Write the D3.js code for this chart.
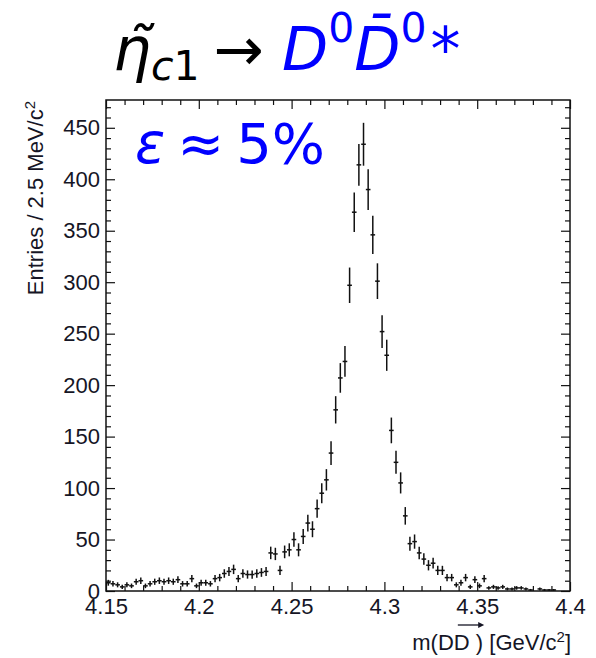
<!DOCTYPE html>
<html>
<head>
<meta charset="utf-8">
<script src="https://cdn.jsdelivr.net/npm/d3@7"></script>
<style>
    html, body { margin: 0; padding: 0; background: #fff; }
    svg { display: block; }
</style>
</head>
<body>
<div id="graph"></div>
<script>
!(function(){
    "use strict"

    var width = 596;
    var height = 658;

    // entries per 2.5 MeV bin, m from 4.15 to 4.40 GeV (100 bins)
    var entries = [
         8,  7,  6,  4,  6,  5,  9, 10,  5,  7,
         9, 10,  9, 10,  9, 11,  7,  7, 12,  5,
         8,  8,  7, 12, 13, 17, 19, 21, 12, 17,
        16, 16, 17, 18, 19, 37, 36, 20, 38, 40,
        50, 40, 53, 66, 60, 80, 95,108,134,176,
       207,223,297,368,414,434,390,346,301,252,
       229,156,125,105, 73, 46, 48, 37, 31, 25,
        27, 20, 20, 13, 13,  6,  8, 13,  4, 11,
         5, 12,  3,  4,  3,  4,  2,  2,  3,  3,
         2,  1,  0,  2,  1,  1,  1,  0,  0,  0
    ];
    var massRange = [4.15, 4.4];
    var binWidth = 0.0025;

    var xTicks = [4.15, 4.2, 4.25, 4.3, 4.35, 4.4];
    var xTickLabels = ["4.15", "4.2", "4.25", "4.3", "4.35", "4.4"];
    var yTicks = [0, 50, 100, 150, 200, 250, 300, 350, 400, 450];
    var yTickLabels = ["0", "50", "100", "150", "200", "250", "300", "350", "400", "450"];
    var yMax = 477;

    var rootFont = "'Liberation Sans', Arial, Helvetica, sans-serif";
    var mathFont = "'DejaVu Sans', sans-serif";

    var svg = d3.select("#graph").append("svg")
        .attr("width", width)
        .attr("height", height);

    var x = d3.scaleLinear().domain(massRange).range([106, 570]);
    var y = d3.scaleLinear().domain([0, yMax]).range([591, 100]);

    var xMinor = d3.range(4.15, 4.4001, 0.01).filter(function(v){
        return xTicks.every(function(t){ return Math.abs(t - v) > 1e-6; });
    });
    var yMinor = d3.range(0, yMax, 10).filter(function(v){ return v % 50 !== 0; });

    function styleAxis(g) {
        g.select(".domain").remove();
        g.selectAll(".tick line").attr("stroke", "#111").attr("stroke-width", 1.2);
        g.attr("font-family", rootFont).attr("font-size", 22);
        g.selectAll(".tick text").attr("fill", "#151525");
    }

    // bottom
    svg.append("g").attr("transform", "translate(0," + y(0) + ")")
        .call(d3.axisBottom(x).tickValues(xTicks).tickSize(-9).tickPadding(7)
            .tickFormat(function(d, i){ return xTickLabels[i]; }))
        .call(styleAxis);
    svg.append("g").attr("transform", "translate(0," + y(0) + ")")
        .call(d3.axisBottom(x).tickValues(xMinor).tickSize(-5).tickFormat(""))
        .call(styleAxis);
    // top
    svg.append("g").attr("transform", "translate(0," + y(yMax) + ")")
        .call(d3.axisTop(x).tickValues(xTicks).tickSize(-9).tickFormat(""))
        .call(styleAxis);
    svg.append("g").attr("transform", "translate(0," + y(yMax) + ")")
        .call(d3.axisTop(x).tickValues(xMinor).tickSize(-5).tickFormat(""))
        .call(styleAxis);
    // left
    svg.append("g").attr("transform", "translate(" + x(4.15) + ",0)")
        .call(d3.axisLeft(y).tickValues(yTicks).tickSize(-9).tickPadding(6)
            .tickFormat(function(d, i){ return yTickLabels[i]; }))
        .call(styleAxis);
    svg.append("g").attr("transform", "translate(" + x(4.15) + ",0)")
        .call(d3.axisLeft(y).tickValues(yMinor).tickSize(-5).tickFormat(""))
        .call(styleAxis);
    // right
    svg.append("g").attr("transform", "translate(" + x(4.4) + ",0)")
        .call(d3.axisRight(y).tickValues(yTicks).tickSize(-9).tickFormat(""))
        .call(styleAxis);
    svg.append("g").attr("transform", "translate(" + x(4.4) + ",0)")
        .call(d3.axisRight(y).tickValues(yMinor).tickSize(-5).tickFormat(""))
        .call(styleAxis);

    // frame
    svg.append("rect")
        .attr("x", x(4.15)).attr("y", y(yMax))
        .attr("width", x(4.4) - x(4.15)).attr("height", y(0) - y(yMax))
        .attr("fill", "none").attr("stroke", "#111").attr("stroke-width", 1.5);

    // data points with sqrt(N) errors, empty bins not drawn
    var bins = entries.map(function(n, i){
        return { lo: massRange[0] + i * binWidth, hi: massRange[0] + (i + 1) * binWidth, n: n };
    }).filter(function(d){ return d.n > 0; });

    var pts = svg.append("g").attr("stroke", "#111").attr("stroke-width", 1.5);
    pts.selectAll("line.h").data(bins).enter().append("line")
        .attr("class", "h")
        .attr("x1", function(d){ return x(d.lo); })
        .attr("x2", function(d){ return x(d.hi); })
        .attr("y1", function(d){ return y(d.n); })
        .attr("y2", function(d){ return y(d.n); });
    pts.selectAll("line.v").data(bins).enter().append("line")
        .attr("class", "v")
        .attr("x1", function(d){ return x((d.lo + d.hi) / 2); })
        .attr("x2", function(d){ return x((d.lo + d.hi) / 2); })
        .attr("y1", function(d){ return y(Math.max(0, d.n - Math.sqrt(d.n))); })
        .attr("y2", function(d){ return y(d.n + Math.sqrt(d.n)); });

    // axis titles
    var yTitle = svg.append("text")
        .attr("transform", "translate(43,101) rotate(-90)")
        .attr("text-anchor", "end")
        .attr("font-family", rootFont).attr("font-size", 22)
        .attr("fill", "#151525")
        .text("Entries / 2.5 MeV/c");
    yTitle.append("tspan").attr("font-size", 15).attr("dy", -8).text("2");

    var xTitle = svg.append("text")
        .attr("x", 571).attr("y", 650)
        .attr("text-anchor", "end")
        .attr("font-family", rootFont).attr("font-size", 22)
        .attr("fill", "#151525")
        .text("m(DD ) [GeV/c");
    xTitle.append("tspan").attr("font-size", 15).attr("dy", -8).text("2");
    xTitle.append("tspan").attr("dy", 8).text("]");

    // the little vector arrow over DD
    var ax0 = 442, ax1 = 467;
    try {
        var node = xTitle.node();
        ax0 = node.getStartPositionOfChar(3).x + 4;
        ax1 = node.getEndPositionOfChar(5).x + 1;
    } catch (e) {}
    svg.append("line")
        .attr("x1", ax0).attr("x2", ax1 - 2).attr("y1", 625).attr("y2", 625)
        .attr("stroke", "#151525").attr("stroke-width", 1.3);
    svg.append("path")
        .attr("d", "M" + ax1 + ",625 L" + (ax1 - 6) + ",622 L" + (ax1 - 6) + ",628 Z")
        .attr("fill", "#151525");

    // title
    var title = svg.append("text")
        .attr("x", 113).attr("y", 70)
        .attr("font-family", mathFont).attr("font-size", 60);
    title.append("tspan").attr("font-style", "italic").text("\u03b7\u0303");
    title.append("tspan").attr("font-style", "italic").attr("font-size", 41).attr("dy", 10).text("c");
    title.append("tspan").attr("font-size", 41).text("1");
    title.append("tspan").attr("dy", -10).attr("dx", 14).text("\u2192");
    title.append("tspan").attr("dx", 18).attr("font-style", "italic").attr("fill", "#0000ff").text("D");
    title.append("tspan").attr("font-size", 41).attr("dy", -28).attr("fill", "#0000ff").text("0");
    title.append("tspan").attr("font-style", "italic").attr("dy", 28).attr("fill", "#0000ff").text("D\u0304");
    title.append("tspan").attr("font-size", 41).attr("dy", -28).attr("fill", "#0000ff").text("0");
    title.append("tspan").attr("dy", 28).attr("dx", 4).attr("fill", "#0000ff").text("*");

    var eff = svg.append("text")
        .attr("x", 135).attr("y", 163)
        .attr("font-family", mathFont).attr("font-size", 56)
        .attr("fill", "#0000ff");
    eff.append("tspan").attr("font-style", "italic").text("\u03b5");
    eff.append("tspan").attr("dx", 12).text("\u2248");
    eff.append("tspan").attr("dx", 12).text("5%");

}());
</script>
</body>
</html>
